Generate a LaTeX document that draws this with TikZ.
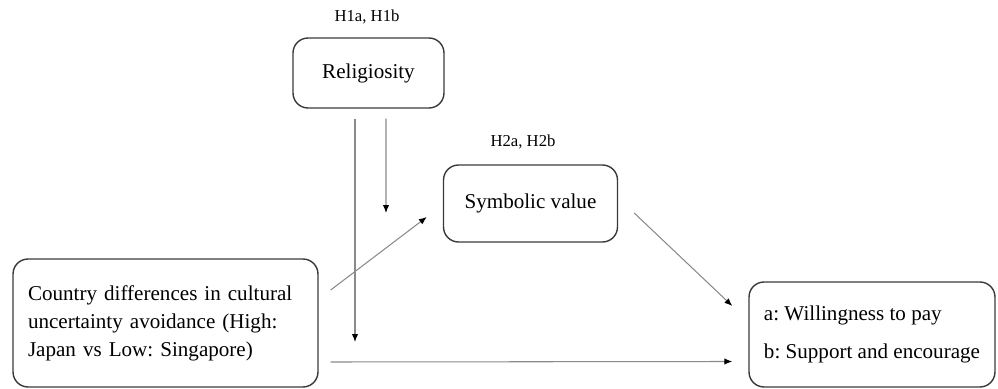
\documentclass[tikz,border=0pt]{standalone}
\usepackage{fontspec}
\setmainfont{Liberation Serif}
\usetikzlibrary{arrows.meta,positioning}
\definecolor{boxgray}{HTML}{3A3A3A}
\definecolor{linegray}{HTML}{8A8A8A}
\frenchspacing
\begin{document}
\begin{tikzpicture}[x=0.02cm,y=0.02cm,line join=round,
	box/.style={draw=boxgray,line width=0.8pt,rounded corners=0.3cm,font=\fontsize{12}{16}\selectfont},
	hyp/.style={font=\fontsize{9.5}{11}\selectfont},
	arr/.style={draw=linegray,line width=0.6pt,-{Latex[length=4.5pt,width=3.6pt,color=black]}}]
	\useasboundingbox (0,0) rectangle (998,389);
	% Các khối
	\node[box,minimum width=3.02cm,minimum height=1.4cm] (rel) at (368.5,316) {Religiosity};
	\node[box,minimum width=3.48cm,minimum height=1.54cm] (sym) at (530.5,185.5) {Symbolic value};
	\node[box,minimum height=2.56cm,text width=5.5cm,inner xsep=0.3cm,align=left] (cty) at (165.5,66)
		{Country differences in cultural\\uncertainty avoidance (High:\\Japan vs Low: Singapore)};
	\node[box,minimum width=4.92cm,minimum height=2.1cm,align=left,
		font=\fontsize{12}{21.6}\selectfont] (out) at (872,54.5)
		{a: Willingness to pay\\b: Support and encourage};
	% Nhãn giả thuyết
	\node[hyp] (h1) at (367,372) {H1a, H1b};
	\node[hyp] (h2) at (523,247) {H2a, H2b};
	% Điểm cuối của các mũi tên điều tiết
	\coordinate (m1) at (386,176);
	\coordinate (m2) at (355,47);
	% Các mũi tên
	\draw[arr] ([shift={(12,33)}]cty.east) -- ([shift={(-16,-13.5)}]sym.west);
	\draw[arr] ([shift={(16,-9.5)}]sym.east) -- ([shift={(-16,28.5)}]out.west);
	\draw[arr] ([shift={(12,-39)}]cty.east) -- ([shift={(-16,-27)}]out.west);
	\draw[arr] ([shift={(17.5,-10)}]rel.south) -- (m1);
	\draw[arr] ([shift={(-13.5,-10)}]rel.south) -- (m2);
\end{tikzpicture}
\end{document}
